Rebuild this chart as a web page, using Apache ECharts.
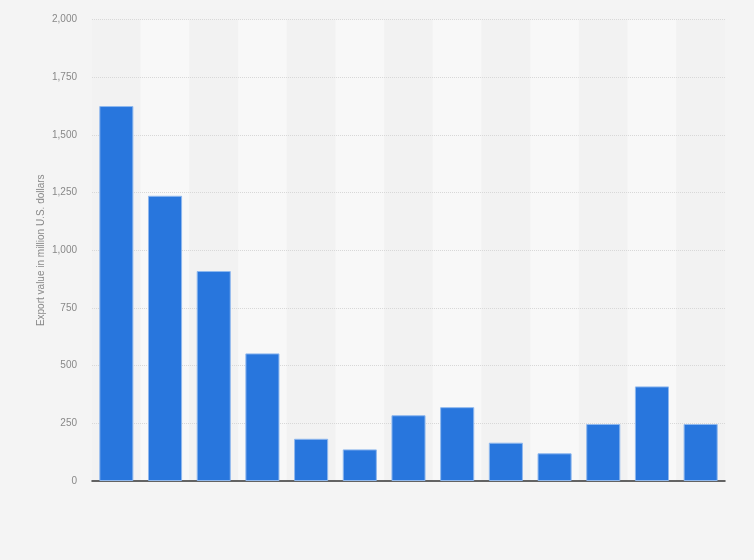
<!DOCTYPE html>
<html>
<head>
<meta charset="utf-8">
<script src="https://cdn.jsdelivr.net/npm/echarts@6/dist/echarts.min.js"></script>
<style>
  html, body { margin: 0; padding: 0; background: #f4f4f4; }
  #container { width: 754px; height: 560px; }
</style>
</head>
<body>
<div id="container"></div>
<script>
let dom = document.getElementById("container");
let myChart = echarts.init(dom);

// categories are not labelled in the picture
let categories = ['1', '2', '3', '4', '5', '6', '7', '8', '9', '10', '11', '12', '13'];
let exportValues = [1625, 1236, 910, 553, 183, 137, 285, 320, 166, 120, 247, 410, 247];
let yTicks = [0, 250, 500, 750, 1000, 1250, 1500, 1750, 2000];

let option = {
    backgroundColor: '#f4f4f4',
    grid: {
        left: 92,
        right: 29,
        top: 19.5,
        bottom: 79
    },
    xAxis: {
        type: 'category',
        data: categories,
        z: 0,
        axisLine: { show: true, lineStyle: { color: '#333', width: 1.5 } },
        axisTick: { show: false },
        axisLabel: { show: false },
        splitArea: {
            show: true,
            areaStyle: { color: ['#f2f2f2', '#f8f8f8'] }
        }
    },
    yAxis: {
        type: 'value',
        z: 1,
        min: yTicks[0],
        max: yTicks[yTicks.length - 1],
        interval: 250,
        name: 'Export value in million U.S. dollars',
        nameLocation: 'middle',
        nameGap: 46,
        nameMoveOverlap: false,
        nameTextStyle: { color: '#888', fontSize: 10, fontFamily: 'Liberation Sans' },
        axisLine: { show: false },
        axisTick: { show: false },
        axisLabel: {
            color: '#888',
            fontSize: 10,
            fontFamily: 'Liberation Sans',
            margin: 15,
            formatter: function (v) {
                return v.toLocaleString('en-US');
            }
        },
        splitLine: {
            show: true,
            showMinLine: false,
            lineStyle: { color: '#d8d8d8', type: 'dotted', width: 1 }
        }
    },
    series: [
        {
            type: 'bar',
            z: 2,
            data: exportValues,
            barWidth: '70%',
            itemStyle: {
                color: '#2876dd',
                borderColor: '#8fb8ee',
                borderWidth: 1
            },
            silent: true
        }
    ]
};

if (option && typeof option === "object") {
    myChart.setOption(option, true);
}
</script>
</body>
</html>
